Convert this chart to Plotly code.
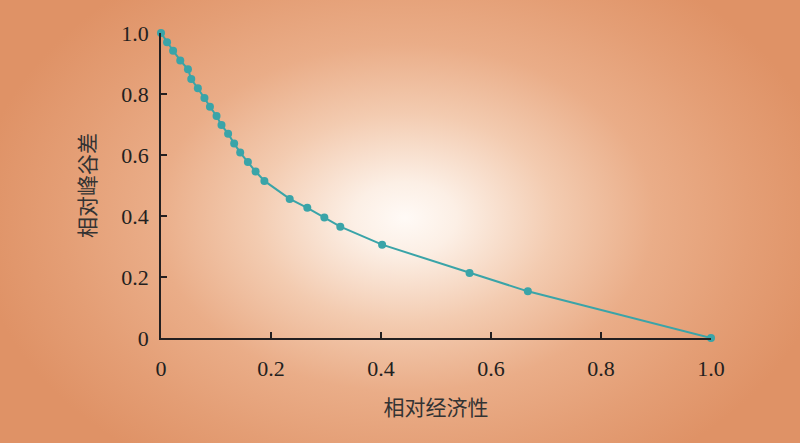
import base64
import plotly.graph_objects as go

# Data
economy = [0.0, 0.011, 0.022, 0.035, 0.049, 0.055, 0.067, 0.079, 0.089, 0.101,
           0.110, 0.122, 0.133, 0.144, 0.158, 0.172, 0.188, 0.234, 0.266, 0.297,
           0.326, 0.402, 0.561, 0.667, 1.0]
peak_valley = [1.0, 0.970, 0.942, 0.910, 0.881, 0.849, 0.819, 0.787, 0.758, 0.728,
               0.698, 0.670, 0.638, 0.608, 0.577, 0.546, 0.515, 0.456, 0.427, 0.395,
               0.365, 0.306, 0.213, 0.153, 0.0]
tick_vals = [0, 0.2, 0.4, 0.6, 0.8, 1.0]
tick_text = ["0", "0.2", "0.4", "0.6", "0.8", "1.0"]
x_title = "相对经济性"
y_title = "相对峰谷差"

W, H = 800, 443
ML, MR, MT, MB = 161, 89, 33, 105
PW, PH = W - ML - MR, H - MT - MB

svg = f'''<svg xmlns="http://www.w3.org/2000/svg" width="{W}" height="{H}" viewBox="0 0 {W} {H}" preserveAspectRatio="none">
<defs><radialGradient id="g" gradientUnits="userSpaceOnUse" cx="0" cy="0" r="1"
 gradientTransform="translate(405 218) scale(430 300)">
<stop offset="0" stop-color="#fffaf6"/>
<stop offset="0.12" stop-color="#fcefe5"/>
<stop offset="0.35" stop-color="#f3cbb0"/>
<stop offset="0.58" stop-color="#eaad88"/>
<stop offset="0.8" stop-color="#e49e75"/>
<stop offset="1" stop-color="#df9266"/>
</radialGradient></defs>
<rect x="0" y="0" width="{W}" height="{H}" fill="url(#g)"/>
</svg>'''
src = "data:image/svg+xml;base64," + base64.b64encode(svg.encode()).decode()

fig = go.Figure()
fig.add_trace(go.Scatter(
    x=economy, y=peak_valley, mode="lines+markers",
    line=dict(color="#3aa4a8", width=2),
    marker=dict(color="#3aa4a8", size=8),
    cliponaxis=False, showlegend=False,
))

fig.add_layout_image(dict(
    source=src, xref="paper", yref="paper",
    x=-ML / PW, y=1 + MT / PH, sizex=W / PW, sizey=H / PH,
    xanchor="left", yanchor="top", sizing="stretch", layer="below",
))

axis_common = dict(
    range=[0, 1], tickvals=tick_vals, ticktext=tick_text,
    showgrid=False, zeroline=False, showline=True,
    linecolor="#231f20", linewidth=1.5,
    ticks="inside", ticklen=6, tickwidth=1.5, tickcolor="#231f20",
    tickfont=dict(family="Liberation Serif", size=22, color="#231f20"),
)
fig.update_xaxes(**axis_common, ticklabelstandoff=10,
                 title=dict(text=x_title, standoff=20,
                            font=dict(family="Noto Sans CJK SC", size=21, color="#333333")))
fig.update_yaxes(**axis_common, ticklabelstandoff=6,
                 title=dict(text=y_title, standoff=20,
                            font=dict(family="Noto Sans CJK SC", size=21, color="#333333")))

fig.update_layout(
    width=W, height=H,
    margin=dict(l=ML, r=MR, t=MT, b=MB, autoexpand=False),
    paper_bgcolor="rgba(0,0,0,0)", plot_bgcolor="rgba(0,0,0,0)",
)
fig.write_html("out.html", config={"displayModeBar": False},
               post_script="document.body.style.margin='0';document.body.style.padding='0';")
